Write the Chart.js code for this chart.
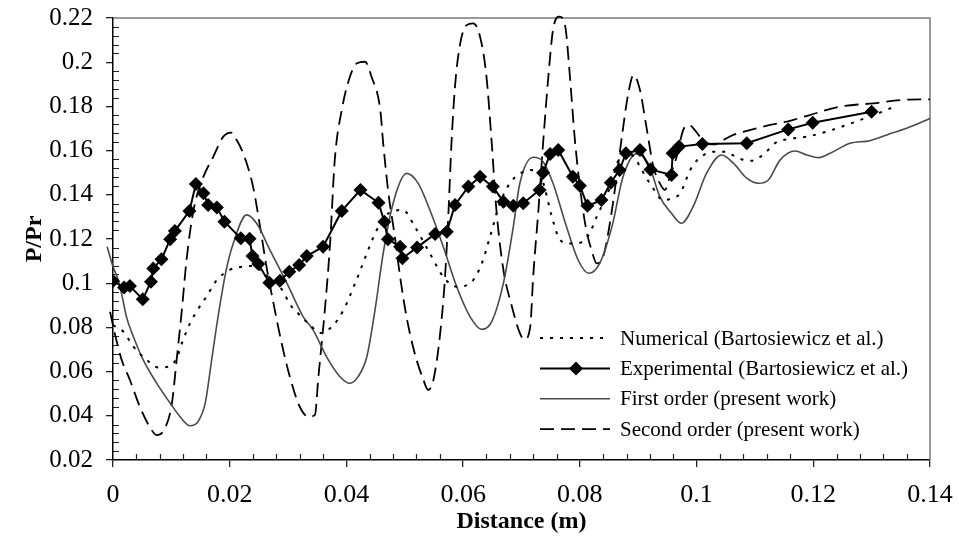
<!DOCTYPE html>
<html>
<head>
<meta charset="utf-8">
<script src="https://cdn.jsdelivr.net/npm/chart.js@4.4.1/dist/chart.umd.min.js"></script>
<style>
  html, body { margin: 0; background: #fff; }
  #wrap { width: 959px; height: 540px; }
</style>
</head>
<body>
<div id="wrap"><canvas id="grafico" width="959" height="540"></canvas></div>
<script>
'use strict';

// ── Dati ───────────────────────────────────────────────────────
const xTicks = [0, 0.02, 0.04, 0.06, 0.08, 0.1, 0.12, 0.14];
const yTicks = [0.02, 0.04, 0.06, 0.08, 0.1, 0.12, 0.14, 0.16, 0.18, 0.2, 0.22];

// Numerical (Bartosiewicz et al.)
const numX = [0, 0.0018, 0.0035, 0.0058, 0.0078, 0.0095, 0.0109, 0.012, 0.0132, 0.0143,
  0.016, 0.0178, 0.02, 0.0223, 0.024, 0.026, 0.0286, 0.0306, 0.032, 0.0338,
  0.0355, 0.0378, 0.0395, 0.0415, 0.0435, 0.0452, 0.0472, 0.0497, 0.0517, 0.0543,
  0.0566, 0.0589, 0.0615, 0.0632, 0.0646, 0.0663, 0.068, 0.0694, 0.0715, 0.0735,
  0.0752, 0.0763, 0.0777, 0.0795, 0.0815, 0.0829, 0.0852, 0.0866, 0.0882, 0.092,
  0.0943, 0.0958, 0.0972, 0.0989, 0.1003, 0.1029, 0.1049, 0.1072, 0.1094, 0.1117,
  0.1134, 0.1154, 0.1189, 0.1223, 0.1257, 0.1292, 0.1326, 0.1343];
const numY = [0.081, 0.078, 0.0713, 0.0652, 0.0619, 0.0622, 0.066, 0.0743, 0.0818, 0.0871,
  0.0939, 0.1014, 0.106, 0.1075, 0.1078, 0.104, 0.0984, 0.0894, 0.0856, 0.081,
  0.0775, 0.0811, 0.0879, 0.10, 0.1135, 0.1241, 0.1316, 0.1331, 0.1256, 0.1135,
  0.1029, 0.0984, 0.1007, 0.109, 0.121, 0.1362, 0.1452, 0.149, 0.1512, 0.147,
  0.1301, 0.121, 0.118, 0.118, 0.1218, 0.1301, 0.1437, 0.1557, 0.159, 0.1452,
  0.1376, 0.1385, 0.1407, 0.1512, 0.1561, 0.1595, 0.1595, 0.1565, 0.1554, 0.1588,
  0.1633, 0.1651, 0.1663, 0.1686, 0.1716, 0.175, 0.1784, 0.1806];

// Experimental (Bartosiewicz et al.)
const expX = [0, 0.0019, 0.0029, 0.0051, 0.0065, 0.0069, 0.0083, 0.0098, 0.0106, 0.0131,
  0.0142, 0.0155, 0.0163, 0.0178, 0.0191, 0.0219, 0.0234, 0.0239, 0.0249, 0.0268,
  0.0286, 0.0302, 0.0319, 0.0332, 0.036, 0.0392, 0.0424, 0.0455, 0.0465, 0.0471,
  0.0492, 0.0496, 0.0521, 0.0552, 0.0572, 0.0586, 0.0609, 0.0629, 0.0651, 0.0669,
  0.0686, 0.0703, 0.0731, 0.0737, 0.0749, 0.0763, 0.0788, 0.08, 0.0813, 0.0837,
  0.0853, 0.0868, 0.0879, 0.0903, 0.0921, 0.0957, 0.0959, 0.097, 0.101, 0.1086,
  0.1157, 0.1199, 0.13];
const expY = [0.101, 0.098, 0.0987, 0.0927, 0.1007, 0.1067, 0.1108, 0.1199, 0.1236, 0.1327,
  0.1449, 0.1407, 0.1354, 0.1343, 0.1278, 0.1203, 0.1201, 0.1123, 0.1087, 0.1002,
  0.1011, 0.1052, 0.1082, 0.1123, 0.1165, 0.1327, 0.1422, 0.1364, 0.1278, 0.1199,
  0.1165, 0.1113, 0.1162, 0.1223, 0.1233, 0.1354, 0.1437, 0.1482, 0.1437, 0.1369,
  0.135, 0.1362, 0.1422, 0.15, 0.1585, 0.1603, 0.1482, 0.1441, 0.135, 0.1376,
  0.1455, 0.1512, 0.1588, 0.1603, 0.1515, 0.149, 0.1588, 0.1618, 0.163, 0.1633,
  0.1696, 0.1726, 0.1776];

// First order (present work)
const firstX = [-0.001, 0, 0.0009, 0.0017, 0.0023, 0.0035, 0.0052, 0.0075, 0.0098, 0.0115,
  0.0132, 0.0146, 0.0158, 0.0169, 0.018, 0.0194, 0.0206, 0.0229, 0.0246, 0.0269,
  0.0298, 0.0326, 0.0343, 0.0366, 0.0389, 0.0406, 0.042, 0.0435, 0.0449, 0.0463,
  0.048, 0.0503, 0.0523, 0.0543, 0.0566, 0.0589, 0.0612, 0.0632, 0.0649, 0.0669,
  0.0686, 0.0697, 0.072, 0.0737, 0.0754, 0.0777, 0.0797, 0.0815, 0.0834, 0.0855,
  0.0874, 0.0897, 0.0917, 0.0937, 0.0957, 0.0974, 0.0994, 0.1017, 0.1043, 0.1063,
  0.1086, 0.1106, 0.1123, 0.1143, 0.1169, 0.1189, 0.1209, 0.1229, 0.1263, 0.1297,
  0.1326, 0.136, 0.1394, 0.14];
const firstY = [0.1165, 0.1075, 0.1014, 0.0924, 0.0848, 0.0758, 0.0652, 0.0547, 0.0457, 0.0396,
  0.0355, 0.0375, 0.0457, 0.0652, 0.0848, 0.106, 0.118, 0.1309, 0.1271, 0.115,
  0.10, 0.0848, 0.0788, 0.0667, 0.0577, 0.0547, 0.0577, 0.0667, 0.0879, 0.1135,
  0.1362, 0.1497, 0.1452, 0.1331, 0.1165, 0.0984, 0.0848, 0.0791, 0.0826, 0.10,
  0.1256, 0.145, 0.157, 0.155, 0.1452, 0.1256, 0.1105, 0.1045, 0.109, 0.1256,
  0.1482, 0.1585, 0.1543, 0.1392, 0.1316, 0.1271, 0.1346, 0.1497, 0.158, 0.1543,
  0.1475, 0.1452, 0.1467, 0.1557, 0.1598, 0.158, 0.1568, 0.1588, 0.1633, 0.1645,
  0.1671, 0.1701, 0.1738, 0.1746];

// Second order (present work)
const secondX = [-0.0005, 0.0003, 0.0015, 0.0029, 0.0046, 0.0063, 0.0075, 0.0089, 0.0101, 0.0109,
  0.0118, 0.0126, 0.0138, 0.0155, 0.0172, 0.0189, 0.0203, 0.0212, 0.0223, 0.024,
  0.0252, 0.0263, 0.0275, 0.0289, 0.0303, 0.032, 0.0335, 0.0346, 0.0352, 0.0363,
  0.0372, 0.038, 0.0392, 0.0406, 0.0418, 0.0432, 0.0443, 0.0458, 0.0463, 0.0472,
  0.0483, 0.0492, 0.0503, 0.0517, 0.0532, 0.054, 0.0549, 0.056, 0.0569, 0.0575,
  0.058, 0.0586, 0.0595, 0.0606, 0.0617, 0.0629, 0.064, 0.0649, 0.0657, 0.0669,
  0.0683, 0.0697, 0.0705, 0.0715, 0.072, 0.0729, 0.0737, 0.0746, 0.0754, 0.0765,
  0.0775, 0.0783, 0.0791, 0.08, 0.081, 0.082, 0.0829, 0.084, 0.0852, 0.0863,
  0.0872, 0.0883, 0.0892, 0.0903, 0.0914, 0.0926, 0.0937, 0.0946, 0.0954, 0.0966,
  0.0977, 0.0987, 0.0997, 0.1013, 0.1029, 0.1046, 0.1063, 0.1091, 0.1126, 0.116,
  0.1194, 0.1246, 0.1303, 0.135, 0.14, 0.1412];
const secondY = [0.0871, 0.0773, 0.0652, 0.0562, 0.0441, 0.035, 0.0313, 0.0343, 0.0457, 0.0652,
  0.0879, 0.1105, 0.1331, 0.1482, 0.1573, 0.1663, 0.1681, 0.1648, 0.1588, 0.1437,
  0.1256, 0.1075, 0.0909, 0.0728, 0.0577, 0.0441, 0.0396, 0.0404, 0.0577, 0.0879,
  0.118, 0.1557, 0.1784, 0.1934, 0.1995, 0.2002, 0.1934, 0.1784, 0.1633, 0.1407,
  0.121, 0.1029, 0.0848, 0.0683, 0.0562, 0.0517, 0.0562, 0.0758, 0.1029, 0.1331,
  0.1633, 0.1889, 0.2085, 0.2168, 0.2176, 0.2115, 0.1934, 0.1633, 0.1331, 0.106,
  0.09, 0.0775, 0.0745, 0.0803, 0.1029, 0.1331, 0.1633, 0.1934, 0.2146, 0.2206,
  0.2161, 0.1934, 0.1663, 0.1437, 0.1256, 0.115, 0.109, 0.112, 0.128, 0.1482,
  0.1663, 0.1859, 0.1942, 0.1874, 0.1708, 0.1527, 0.1452, 0.1422, 0.1482, 0.1573,
  0.1693, 0.1716, 0.1693, 0.164, 0.1628, 0.1648, 0.1671, 0.1693, 0.1716, 0.1735,
  0.1761, 0.1799, 0.1814, 0.1829, 0.1832, 0.1833];

function punti(xs, ys) {
  if (xs.length !== ys.length) console.error('lunghezze diverse', xs.length, ys.length);
  return xs.map((x, i) => ({ x: x, y: ys[i] }));
}

const SERIF = "'Liberation Serif', 'Times New Roman', serif";
const MINOR_STEP = 0.004;

// ── Cornice, tacche minori e legenda interna ───────────────────
const decorPlugin = {
  id: 'decor',
  beforeDatasetsDraw(chart) {
    const { ctx, chartArea: a, scales } = chart;
    ctx.save();
    // bordo superiore e destro grigio
    ctx.strokeStyle = '#7a7a7a';
    ctx.lineWidth = 1.5;
    ctx.beginPath();
    ctx.moveTo(a.left, a.top); ctx.lineTo(a.right, a.top); ctx.lineTo(a.right, a.bottom);
    ctx.stroke();
    // tacche minori verso l'interno
    ctx.strokeStyle = '#222';
    ctx.lineWidth = 1.2;
    ctx.beginPath();
    const sx = scales.x, sy = scales.y;
    const nx = Math.round((sx.max - sx.min) / MINOR_STEP);
    for (let k = 0; k <= nx; k++) {
      if (k % 5 === 0) continue;
      const px = Math.round(sx.getPixelForValue(sx.min + k * MINOR_STEP)) + 0.5;
      ctx.moveTo(px, a.bottom); ctx.lineTo(px, a.bottom - 6);
    }
    const ny = Math.round((sy.max - sy.min) / MINOR_STEP);
    for (let k = 0; k <= ny; k++) {
      if (k % 5 === 0) continue;
      const py = Math.round(sy.getPixelForValue(sy.min + k * MINOR_STEP)) + 0.5;
      ctx.moveTo(a.left, py); ctx.lineTo(a.left + 6, py);
    }
    ctx.stroke();
    ctx.restore();
  },
  afterDatasetsDraw(chart) {
    const { ctx, chartArea: a } = chart;
    const x0 = a.left + 427;
    const y0 = a.top + 320;
    const rowH = 30.4;
    ctx.save();
    chart.data.datasets.forEach((ds, i) => {
      const y = y0 + i * rowH;
      ctx.strokeStyle = ds.borderColor;
      ctx.lineWidth = ds.borderWidth;
      ctx.setLineDash(ds.borderDash || []);
      ctx.beginPath();
      ctx.moveTo(x0, y); ctx.lineTo(x0 + 70, y);
      ctx.stroke();
      ctx.setLineDash([]);
      if (ds.pointRadius > 0) {
        const r = ds.pointRadius;
        const cx = x0 + 36;
        ctx.fillStyle = ds.pointBackgroundColor;
        ctx.beginPath();
        ctx.moveTo(cx, y - r); ctx.lineTo(cx + r, y); ctx.lineTo(cx, y + r); ctx.lineTo(cx - r, y);
        ctx.closePath();
        ctx.fill();
      }
      ctx.fillStyle = '#000';
      ctx.font = '21px ' + SERIF;
      ctx.textBaseline = 'middle';
      ctx.textAlign = 'left';
      ctx.fillText(ds.label, x0 + 80, y + 1);
    });
    ctx.restore();
  }
};

const ctx = document.getElementById('grafico').getContext('2d');

new Chart(ctx, {
  type: 'line',
  data: {
    datasets: [
      {
        label: 'Numerical (Bartosiewicz et al.)',
        data: punti(numX, numY),
        borderColor: '#000',
        borderWidth: 2,
        borderDash: [3, 7],
        pointRadius: 0,
        cubicInterpolationMode: 'monotone',
        fill: false
      },
      {
        label: 'Experimental (Bartosiewicz et al.)',
        data: punti(expX, expY),
        borderColor: '#000',
        borderWidth: 2,
        pointStyle: 'rectRot',
        pointRadius: 7,
        pointBackgroundColor: '#000',
        pointBorderColor: '#000',
        pointBorderWidth: 0,
        tension: 0,
        fill: false
      },
      {
        label: 'First order (present work)',
        data: punti(firstX, firstY),
        borderColor: '#4a4a4a',
        borderWidth: 1.6,
        pointRadius: 0,
        cubicInterpolationMode: 'monotone',
        clip: false,
        fill: false
      },
      {
        label: 'Second order (present work)',
        data: punti(secondX, secondY),
        borderColor: '#000',
        borderWidth: 1.8,
        borderDash: [14, 7],
        pointRadius: 0,
        cubicInterpolationMode: 'monotone',
        clip: false,
        fill: false
      }
    ]
  },
  options: {
    responsive: false,
    animation: false,
    events: [],
    layout: { padding: { left: 0, top: 18, right: 29, bottom: 0 } },
    plugins: {
      legend: { display: false },
      tooltip: { enabled: false }
    },
    scales: {
      x: {
        type: 'linear',
        min: 0, max: 0.14,
        afterBuildTicks: s => { s.ticks = xTicks.map(v => ({ value: v })); },
        afterFit: s => { s.height = 80; s.paddingLeft = 0; s.paddingRight = 0; },
        ticks: {
          autoSkip: false, maxRotation: 0, padding: 13,
          color: '#000', font: { family: SERIF, size: 26 },
          callback: v => String(+v.toFixed(3))
        },
        grid: { drawOnChartArea: false, drawTicks: true, tickLength: 7, color: '#222', lineWidth: 1.3 },
        border: { display: true, color: '#000', width: 1.5 },
        title: {
          display: true, text: 'Distance (m)', color: '#000',
          font: { family: SERIF, size: 24, weight: 'bold' },
          padding: { top: 0, bottom: 4 }
        }
      },
      y: {
        type: 'linear',
        min: 0.02, max: 0.22,
        afterBuildTicks: s => { s.ticks = yTicks.map(v => ({ value: v })); },
        afterFit: s => { s.width = 113; s.paddingTop = 0; s.paddingBottom = 0; },
        ticks: {
          autoSkip: false, padding: 13,
          color: '#000', font: { family: SERIF, size: 25 },
          callback: v => String(+v.toFixed(3))
        },
        grid: { drawOnChartArea: false, drawTicks: true, tickLength: 7, color: '#222', lineWidth: 1.3 },
        border: { display: true, color: '#000', width: 1.5 },
        title: {
          display: true, text: 'P/Pr', color: '#000',
          font: { family: SERIF, size: 24, weight: 'bold' },
          padding: { top: 20, bottom: 0 }
        }
      }
    }
  },
  plugins: [decorPlugin]
});
</script>
</body>
</html>
